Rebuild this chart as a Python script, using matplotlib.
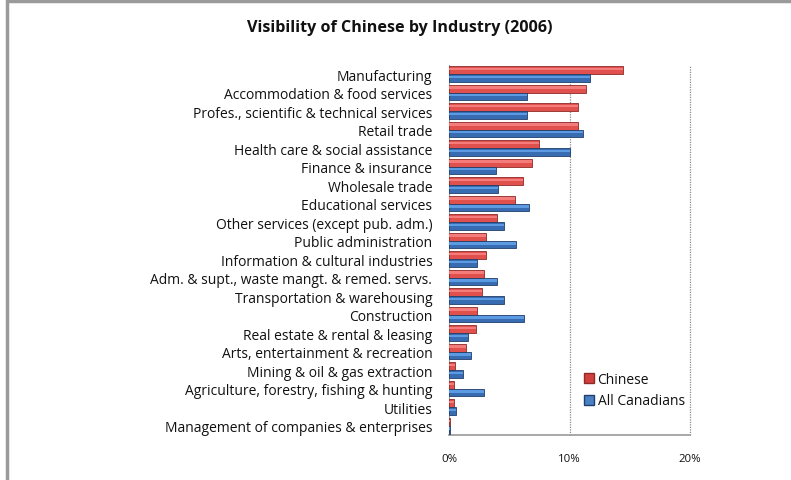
import matplotlib
matplotlib.use("Agg")
import matplotlib.pyplot as plt
from matplotlib.patches import Rectangle
from matplotlib.lines import Line2D
import numpy as np

categories = [
    "Manufacturing",
    "Accommodation & food services",
    "Profes., scientific & technical services",
    "Retail trade",
    "Health care & social assistance",
    "Finance & insurance",
    "Wholesale trade",
    "Educational services",
    "Other services (except pub. adm.)",
    "Public administration",
    "Information & cultural industries",
    "Adm. & supt., waste mangt. & remed. servs.",
    "Transportation & warehousing",
    "Construction",
    "Real estate & rental & leasing",
    "Arts, entertainment & recreation",
    "Mining & oil & gas extraction",
    "Agriculture, forestry, fishing & hunting",
    "Utilities",
    "Management of companies & enterprises",
]
chinese = [14.4, 11.4, 10.7, 10.7, 7.5, 6.9, 6.1, 5.5, 4.0, 3.1, 3.1, 2.9, 2.7, 2.3, 2.2, 1.4, 0.5, 0.4, 0.4, 0.05]
all_canadians = [11.7, 6.5, 6.5, 11.1, 10.0, 3.9, 4.1, 6.6, 4.6, 5.6, 2.3, 4.0, 4.6, 6.2, 1.6, 1.8, 1.2, 2.9, 0.6, 0.05]
xticks = [0, 10, 20]
xtick_labels = ["0%", "10%", "20%"]
title = "Visibility of Chinese by Industry (2006)"
series_names = ["Chinese", "All Canadians"]

plt.rcParams['font.family'] = ['Open Sans', 'DejaVu Sans']

W, H = 791, 481
fig = plt.figure(figsize=(W / 100, H / 100), dpi=100)

# chart frame (cropped Excel chart area)
fig.patches.append(Rectangle((7 / W, -0.1), 1.2, (H - 2) / H + 0.1, transform=fig.transFigure,
                             fill=False, edgecolor='#9a9a9a', linewidth=2.5))

ax = fig.add_axes([449 / W, 1 - 436 / H, (690 - 449) / W, (436 - 65.8) / H])

y = np.arange(len(categories))
h = 0.42
red_y = y - h / 2
blue_y = y + h / 2

ax.barh(red_y, chinese, height=h, color='#E0504C', edgecolor='#8E2A28', linewidth=0.6, zorder=3)
ax.barh(red_y - h * 0.15, chinese, height=h * 0.3, color='#F47C7A', linewidth=0, zorder=4)
ax.barh(blue_y, all_canadians, height=h, color='#386CB2', edgecolor='#213F6B', linewidth=0.6, zorder=3)
ax.barh(blue_y - h * 0.15, all_canadians, height=h * 0.3, color='#5C9AE2', linewidth=0, zorder=4)

ax.set_ylim(len(categories) - 0.5, -0.5)
ax.set_xlim(0, 20)
ax.set_yticks(y)
ax.set_yticklabels(categories, fontsize=10, color='#111111')
ax.set_xticks(xticks)
ax.set_xticklabels(xtick_labels, fontsize=8.2, color='#111111')
ax.tick_params(axis='y', length=0, pad=12)
ax.tick_params(axis='x', length=0, pad=13)

for xv in [10, 20]:
    ax.axvline(xv, color='#8a8a8a', linestyle=(0, (1, 1)), linewidth=0.9, zorder=1, clip_on=False)

for s in ['top', 'right']:
    ax.spines[s].set_visible(False)
ax.spines['left'].set_color('#9a9a9a')
ax.spines['bottom'].set_color('#9a9a9a')
ax.spines['bottom'].set_linewidth(1.2)

fig.text(400 / W, 1 - 28 / H, title, ha='center', va='center', fontsize=11.6, fontweight='bold', color='#111111')

handles = [Line2D([], [], marker='s', linestyle='none', markersize=7, markerfacecolor='#D0403E', markeredgecolor='#8E2A28'),
           Line2D([], [], marker='s', linestyle='none', markersize=7, markerfacecolor='#4A80C4', markeredgecolor='#213F6B')]
fig.legend(handles, series_names, loc='center left', bbox_to_anchor=(576 / W, 1 - 391 / H),
           frameon=False, fontsize=10, handletextpad=0.15, labelspacing=0.5, borderaxespad=0,
           handlelength=1.0, labelcolor='#111111')

fig.savefig("out.png", dpi=100)
